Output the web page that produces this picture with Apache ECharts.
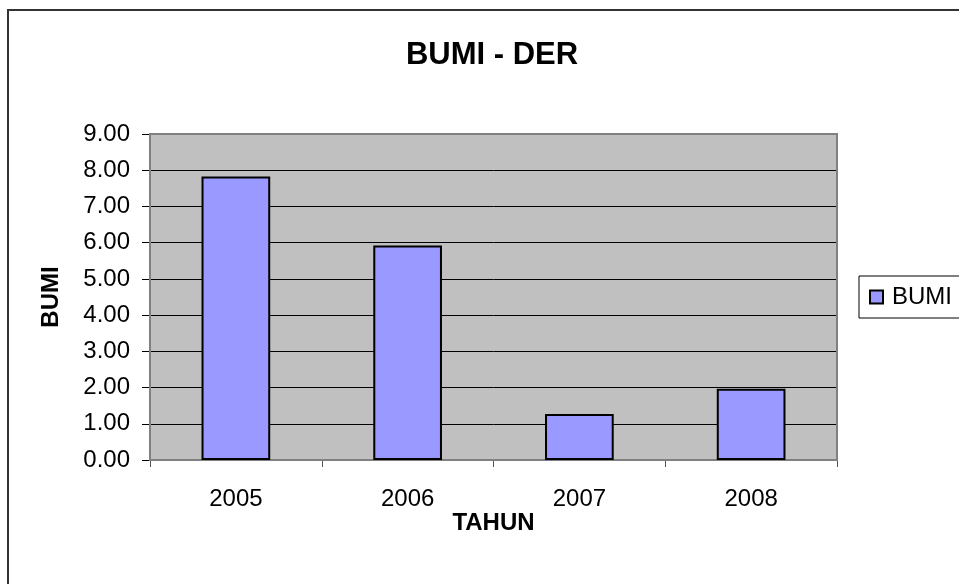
<!DOCTYPE html>
<html>
<head>
<meta charset="utf-8">
<script src="https://cdn.jsdelivr.net/npm/echarts@6/dist/echarts.min.js"></script>
<style>
  html, body { margin: 0; padding: 0; background: #fff; }
  #main { width: 959px; height: 584px; }
</style>
</head>
<body>
<div id="main"></div>
<script>
const years = ['2005', '2006', '2007', '2008']
const bumi = [7.83, 5.92, 1.27, 1.97]
const yTicks = { min: 0, max: 9, step: 1 }

const chart = echarts.init(document.getElementById('main'))
const font = 'Liberation Sans, Arial, sans-serif'

const option = {
  animation: false,
  backgroundColor: '#fff',
  title: {
    text: 'BUMI - DER',
    left: 487,
    top: 35,
    textAlign: 'center',
    textStyle: { fontFamily: font, fontSize: 31, fontWeight: 'bold', color: '#000' }
  },
  graphic: [{
    type: 'rect',
    shape: { x: 8, y: 10, width: 1000, height: 700 },
    style: { fill: 'none', stroke: '#333', lineWidth: 2 },
    z: 0
  }, {
    // plot area border (top/right in gray)
    type: 'rect',
    shape: { x: 150, y: 134, width: 687, height: 326 },
    style: { fill: 'none', stroke: '#808080', lineWidth: 2 },
    z: 1
  }],
  legend: {
    left: 859,
    top: 276,
    orient: 'vertical',
    padding: [9, 20, 9, 10],
    borderColor: '#000',
    borderWidth: 1,
    itemWidth: 13,
    itemHeight: 13,
    itemGap: 0,
    icon: 'rect',
    textStyle: { fontFamily: font, fontSize: 24, color: '#000', padding: [0, 0, 0, 4] },
    data: ['BUMI']
  },
  grid: { left: 150, top: 134, right: 122, bottom: 124, show: true, backgroundColor: '#C0C0C0', borderWidth: 0 },
  xAxis: {
    type: 'category',
    data: years,
    name: 'TAHUN',
    nameLocation: 'middle',
    nameGap: 51,
    nameMoveOverlap: false,
    nameTextStyle: { fontFamily: font, fontSize: 24, fontWeight: 'bold', color: '#000' },
    axisLine: { lineStyle: { color: '#555', width: 1.5 } },
    axisTick: { show: true, length: 7, lineStyle: { color: '#555' } },
    axisLabel: { fontFamily: font, fontSize: 24, color: '#000', margin: 27 }
  },
  yAxis: {
    type: 'value',
    min: yTicks.min,
    max: yTicks.max,
    interval: yTicks.step,
    name: 'BUMI',
    nameLocation: 'middle',
    nameGap: 87,
    nameRotate: 90,
    nameMoveOverlap: false,
    nameTextStyle: { fontFamily: font, fontSize: 24, fontWeight: 'bold', color: '#000' },
    axisLine: { show: true, lineStyle: { color: '#444', width: 2 } },
    axisTick: { show: true, length: 8, lineStyle: { color: '#000' } },
    axisLabel: {
      fontFamily: font, fontSize: 24, color: '#000', margin: 20,
      formatter: v => v.toFixed(2)
    },
    splitLine: { show: true, lineStyle: { color: '#000', width: 1 } }
  },
  series: [{
    name: 'BUMI',
    type: 'bar',
    data: bumi,
    barWidth: '40%',
    itemStyle: { color: '#9999FF', borderColor: '#000', borderWidth: 2 },
    z: 3
  }]
}
chart.setOption(option)
</script>
</body>
</html>
